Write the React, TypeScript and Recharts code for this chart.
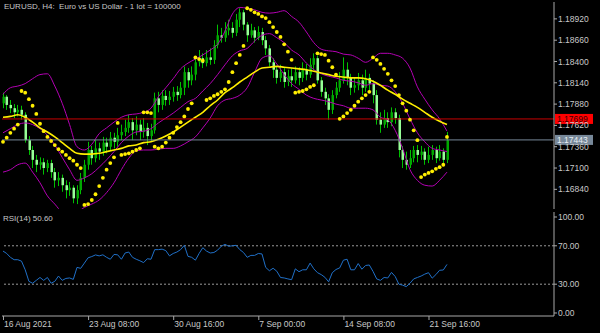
import {
  Bar,
  ComposedChart,
  Line,
  ReferenceLine,
  Scatter,
  XAxis,
  YAxis,
} from 'recharts'

// EURUSD H4 candles, one entry per bar
const OPEN = [
  1.1789, 1.1797, 1.1787, 1.1783, 1.1778, 1.1781, 1.1775, 1.1744, 1.1732, 1.172,
  1.1714, 1.1717, 1.171, 1.1716, 1.1705, 1.1695, 1.1698, 1.1689, 1.1683, 1.1686,
  1.1673, 1.1683, 1.1698, 1.1714, 1.1732, 1.1722, 1.1734, 1.173, 1.1741, 1.1736,
  1.1747, 1.1742, 1.175, 1.1754, 1.1759, 1.1766, 1.1756, 1.1763, 1.1754, 1.1759,
  1.1749, 1.1756, 1.1795, 1.1787, 1.1798, 1.1793, 1.1797, 1.1803, 1.1799, 1.1808,
  1.1827, 1.1817, 1.1824, 1.1839, 1.1844, 1.1838, 1.1845, 1.1842, 1.186, 1.1872,
  1.1869, 1.1878, 1.1881, 1.1875, 1.1891, 1.19, 1.1885, 1.1872, 1.1878, 1.1869,
  1.1876, 1.1866, 1.1856, 1.1839, 1.183, 1.182, 1.1827, 1.1815, 1.1822, 1.1817,
  1.1827, 1.182, 1.183, 1.1824, 1.1836, 1.1844, 1.1817, 1.1803, 1.1795, 1.1781,
  1.1799, 1.1808, 1.1817, 1.183, 1.182, 1.1808, 1.1811, 1.1817, 1.1808, 1.182,
  1.1813, 1.1799, 1.1769, 1.1763, 1.1771, 1.1766, 1.1778, 1.1771, 1.1732, 1.172,
  1.1714, 1.1722, 1.1732, 1.1726, 1.173, 1.172, 1.1726, 1.1732, 1.1722, 1.173,
  1.172,
]
const HIGH = [
  1.1802, 1.1799, 1.1793, 1.1788, 1.1787, 1.1786, 1.1778, 1.1749, 1.1737, 1.1726,
  1.1723, 1.1722, 1.172, 1.172, 1.171, 1.1705, 1.1702, 1.1695, 1.1693, 1.1689,
  1.1689, 1.1704, 1.172, 1.1742, 1.1737, 1.1744, 1.1741, 1.1748, 1.1747, 1.1754,
  1.1753, 1.1759, 1.1763, 1.1769, 1.1775, 1.1771, 1.1773, 1.1769, 1.1771, 1.1765,
  1.1764, 1.1802, 1.1803, 1.1805, 1.1805, 1.1804, 1.1809, 1.181, 1.1815, 1.1834,
  1.1832, 1.1834, 1.1845, 1.1854, 1.185, 1.1854, 1.1856, 1.1866, 1.1885, 1.1881,
  1.1888, 1.1891, 1.1888, 1.1898, 1.1905, 1.1903, 1.1888, 1.1886, 1.1882, 1.1883,
  1.1881, 1.1871, 1.186, 1.1844, 1.1834, 1.1836, 1.1832, 1.183, 1.1832, 1.1834,
  1.1833, 1.1839, 1.1837, 1.1844, 1.185, 1.1847, 1.1821, 1.1808, 1.18, 1.1805,
  1.1815, 1.1827, 1.1845, 1.1839, 1.1825, 1.182, 1.1826, 1.1824, 1.183, 1.1825,
  1.1817, 1.1805, 1.1778, 1.1781, 1.1778, 1.1784, 1.1783, 1.1775, 1.1737, 1.173,
  1.1732, 1.1737, 1.1738, 1.1737, 1.1734, 1.1736, 1.1738, 1.1736, 1.1738, 1.1734,
  1.1754,
]
const LOW = [
  1.1783, 1.1781, 1.1777, 1.1771, 1.1773, 1.1769, 1.1741, 1.1726, 1.171, 1.1705,
  1.1708, 1.1702, 1.1705, 1.1698, 1.1686, 1.1688, 1.1681, 1.1673, 1.1676, 1.1667,
  1.1666, 1.1678, 1.1693, 1.1708, 1.1714, 1.1717, 1.172, 1.1725, 1.1728, 1.1731,
  1.1734, 1.1736, 1.1744, 1.1749, 1.1753, 1.1744, 1.175, 1.1744, 1.1747, 1.1738,
  1.1742, 1.1752, 1.1778, 1.1781, 1.1786, 1.1787, 1.1791, 1.1792, 1.1795, 1.1799,
  1.1808, 1.1811, 1.1817, 1.1834, 1.1832, 1.1834, 1.1836, 1.1837, 1.1856, 1.1863,
  1.1864, 1.1872, 1.1869, 1.1871, 1.1882, 1.1878, 1.1864, 1.1869, 1.1863, 1.1866,
  1.186, 1.1848, 1.1834, 1.182, 1.1813, 1.1815, 1.1808, 1.181, 1.1809, 1.1813,
  1.1811, 1.1815, 1.1817, 1.182, 1.183, 1.1813, 1.1797, 1.1787, 1.1769, 1.1776,
  1.1795, 1.1803, 1.1813, 1.1811, 1.1799, 1.1802, 1.1805, 1.1799, 1.1803, 1.1803,
  1.1789, 1.1763, 1.1753, 1.1759, 1.1759, 1.1761, 1.1764, 1.1723, 1.171, 1.1708,
  1.171, 1.1717, 1.1717, 1.172, 1.1714, 1.1716, 1.172, 1.1716, 1.1719, 1.1715,
  1.1716,
]
const CLOSE = [
  1.1797, 1.1787, 1.1783, 1.1778, 1.1781, 1.1775, 1.1744, 1.1732, 1.172, 1.1714,
  1.1717, 1.171, 1.1716, 1.1705, 1.1695, 1.1698, 1.1689, 1.1683, 1.1686, 1.1673,
  1.1683, 1.1698, 1.1714, 1.1732, 1.1722, 1.1734, 1.173, 1.1741, 1.1736, 1.1747,
  1.1742, 1.175, 1.1754, 1.1759, 1.1766, 1.1756, 1.1763, 1.1754, 1.1759, 1.1749,
  1.1756, 1.1795, 1.1787, 1.1798, 1.1793, 1.1797, 1.1803, 1.1799, 1.1808, 1.1827,
  1.1817, 1.1824, 1.1839, 1.1844, 1.1838, 1.1845, 1.1842, 1.186, 1.1872, 1.1869,
  1.1878, 1.1881, 1.1875, 1.1891, 1.19, 1.1885, 1.1872, 1.1878, 1.1869, 1.1876,
  1.1866, 1.1856, 1.1839, 1.183, 1.182, 1.1827, 1.1815, 1.1822, 1.1817, 1.1827,
  1.182, 1.183, 1.1824, 1.1836, 1.1844, 1.1817, 1.1803, 1.1795, 1.1781, 1.1799,
  1.1808, 1.1817, 1.183, 1.182, 1.1808, 1.1811, 1.1817, 1.1808, 1.182, 1.1813,
  1.1799, 1.1769, 1.1763, 1.1771, 1.1766, 1.1778, 1.1771, 1.1732, 1.172, 1.1714,
  1.1722, 1.1732, 1.1726, 1.173, 1.172, 1.1726, 1.1732, 1.1722, 1.173, 1.172,
  1.1744,
]

// Parabolic SAR, one dot per bar
const SAR = [
  1.1742, 1.1747, 1.1753, 1.1758, 1.1763, 1.1804, 1.1802, 1.1794, 1.1786, 1.1776,
  1.1764, 1.1755, 1.1748, 1.1743, 1.1738, 1.1733, 1.173, 1.1726, 1.1722, 1.1719,
  1.1714, 1.171, 1.1665, 1.1666, 1.1671, 1.1678, 1.1688, 1.1698, 1.1708, 1.1716,
  1.1723, 1.1765, 1.1726, 1.1727, 1.1728, 1.173, 1.1732, 1.1734, 1.1778, 1.1778,
  1.1777, 1.1736, 1.1734, 1.1736, 1.1741, 1.1747, 1.1753, 1.176, 1.1766, 1.1773,
  1.1782, 1.1789, 1.1845, 1.1843, 1.1841, 1.1793, 1.1795, 1.1798, 1.18, 1.1803,
  1.1806, 1.1815, 1.1827, 1.1838, 1.1848, 1.1859, 1.1905, 1.1903, 1.19, 1.1898,
  1.1895, 1.1893, 1.1888, 1.1882, 1.1876, 1.187, 1.1861, 1.1852, 1.1842, 1.1802,
  1.1803, 1.1804, 1.1806, 1.1809, 1.1811, 1.185, 1.1849, 1.1848, 1.1841, 1.1833,
  1.1824, 1.177, 1.1773, 1.1777, 1.1781, 1.1786, 1.1791, 1.1795, 1.1799, 1.1803,
  1.1845, 1.1842, 1.1837, 1.1831, 1.1825, 1.1817, 1.181, 1.1799, 1.1789, 1.178,
  1.1769, 1.1756, 1.1744, 1.1699, 1.1702, 1.1704, 1.1706, 1.1709, 1.1711, 1.1714,
  1.1748,
]

// Bollinger bands and moving average, read on every second bar
const BB_UPPER = [
  1.18, 1.1808, 1.181, 1.1813, 1.1819, 1.1824, 1.1825, 1.181, 1.1789, 1.1763,
  1.1736, 1.1732, 1.1739, 1.1752, 1.1759, 1.1766, 1.1772, 1.1775, 1.1776, 1.1778,
  1.1783, 1.1797, 1.1808, 1.1819, 1.1831, 1.1838, 1.1843, 1.1848, 1.1854, 1.1861,
  1.1877, 1.1898, 1.1906, 1.1905, 1.1903, 1.19, 1.1899, 1.19, 1.1902, 1.1895,
  1.1888, 1.1876, 1.1863, 1.1855, 1.1853, 1.1852, 1.1849, 1.1848, 1.1844, 1.1839,
  1.1844, 1.185, 1.185, 1.1848, 1.1844, 1.1832, 1.1809, 1.1794, 1.1781, 1.177,
  1.1755,
]
const BB_MID = [
  1.1753, 1.1758, 1.1763, 1.1765, 1.1763, 1.1758, 1.175, 1.1738, 1.1723, 1.1708,
  1.1695, 1.1698, 1.1703, 1.1711, 1.172, 1.173, 1.1741, 1.1749, 1.1754, 1.1755,
  1.1758, 1.1765, 1.1771, 1.1777, 1.1784, 1.1791, 1.1795, 1.1804, 1.1813, 1.1824,
  1.1836, 1.1847, 1.1853, 1.1856, 1.1865, 1.1872, 1.1874, 1.1869, 1.1863, 1.1854,
  1.1848, 1.1838, 1.183, 1.1825, 1.1822, 1.182, 1.1817, 1.1816, 1.1814, 1.1811,
  1.1813, 1.1811, 1.181, 1.1803, 1.1789, 1.177, 1.1753, 1.1742, 1.1734, 1.1732,
  1.173,
]
const BB_LOWER = [
  1.1705, 1.1708, 1.1714, 1.1716, 1.1705, 1.1692, 1.1676, 1.1666, 1.1656, 1.1653,
  1.1656, 1.1662, 1.1666, 1.1671, 1.168, 1.1692, 1.1708, 1.1722, 1.1731, 1.1732,
  1.1732, 1.1733, 1.1734, 1.1734, 1.1737, 1.1742, 1.1748, 1.1759, 1.1771, 1.1786,
  1.1793, 1.1795, 1.1799, 1.1808, 1.1827, 1.1844, 1.1847, 1.1837, 1.1824, 1.1813,
  1.1806, 1.1799, 1.1795, 1.1793, 1.1791, 1.1788, 1.1786, 1.1783, 1.1783, 1.1783,
  1.1781, 1.1772, 1.1769, 1.1756, 1.1734, 1.1708, 1.1695, 1.1689, 1.1688, 1.1695,
  1.1705,
]
const MA = [
  1.1772, 1.1773, 1.1775, 1.1772, 1.1766, 1.1759, 1.1754, 1.1748, 1.1741, 1.1734,
  1.1728, 1.1727, 1.1727, 1.1728, 1.173, 1.1732, 1.1734, 1.1737, 1.1738, 1.1741,
  1.1742, 1.1745, 1.1749, 1.1754, 1.176, 1.1766, 1.1772, 1.1778, 1.1786, 1.1793,
  1.1802, 1.1808, 1.1815, 1.1821, 1.1827, 1.1832, 1.1833, 1.1834, 1.1833, 1.1832,
  1.1831, 1.183, 1.1828, 1.1826, 1.1824, 1.1822, 1.1821, 1.182, 1.182, 1.1819,
  1.1816, 1.1811, 1.1805, 1.18, 1.1794, 1.1789, 1.1784, 1.1778, 1.1772, 1.1767,
  1.1763,
]

// RSI(14), one value per bar
const RSI = [
  64.5, 62, 58, 55.5, 55.5, 54, 45, 33, 31, 34,
  37, 34, 37, 31, 33, 38.5, 34, 36, 36.5, 35,
  47.5, 46.5, 52, 57.5, 58.8, 60.5, 59.5, 60.6, 58, 56,
  61, 60.6, 56, 62.5, 63.5, 58, 56, 54.4, 52.5, 56.5,
  56, 66, 66, 66.5, 65, 59.5, 62, 63.5, 66, 70.5,
  59, 58, 55, 62, 68, 64.5, 62.5, 63, 65.5, 69.5,
  71.5, 69.5, 70, 70.5, 66, 63, 58, 60, 60, 62,
  61.5, 47.5, 44, 46.6, 43.5, 37, 36.5, 35.5, 34.7, 46,
  43, 45, 45, 52, 46, 42, 40, 37.2, 32.5, 42,
  45.3, 47, 55, 56, 45, 45, 51.5, 45.6, 49.5, 50,
  43.4, 35.5, 34, 37, 36.5, 42.3, 38, 30, 29, 27.5,
  31, 35.5, 37, 38.5, 40.5, 42, 36.3, 40, 44.5, 44.8,
  50.6,
]

const PRICE_TICKS = [1.1684, 1.171, 1.1736, 1.1762, 1.1788, 1.1814, 1.184, 1.1866, 1.1892]
const RSI_TICKS = [0, 30, 70, 100]
const TIME_TICKS = [0, 23, 46, 69, 92, 115]
const TIME_LABELS = ['16 Aug 2021', '23 Aug 08:00', '30 Aug 16:00', '7 Sep 00:00', '14 Sep 08:00', '21 Sep 16:00']

const ASK = 1.17699
const BID = 1.17443
const RSI_LAST = 50.6

const data = CLOSE.map((close, i) => ({
  i,
  range: [LOW[i], HIGH[i]],
  open: OPEN[i],
  high: HIGH[i],
  low: LOW[i],
  close,
  sar: SAR[i],
  rsi: RSI[i],
  upper: i % 2 === 0 ? BB_UPPER[i / 2] : null,
  mid: i % 2 === 0 ? BB_MID[i / 2] : null,
  lower: i % 2 === 0 ? BB_LOWER[i / 2] : null,
  ma: i % 2 === 0 ? MA[i / 2] : null,
}))

const X_DOMAIN: [number, number] = [-0.27, 148.92]
const FONT = '"Liberation Sans", Arial, sans-serif'
const FRAME = '#a8a8a8'
const TEXT = '#c8c8c8'
const GREEN = '#00c000'
const MAGENTA = '#b400b4'
const YELLOW = '#ffee00'

function Candle(props: any) {
  const { x, y, width, height, payload } = props
  if (payload == null || height == null) return null
  const top = Math.min(y, y + height)
  const h = Math.abs(height)
  const { open, close, high, low } = payload
  const toY = (v: number) => top + ((high - v) / (high - low || 1)) * h
  const cx = Math.round(x + width / 2)
  const bodyTop = toY(Math.max(open, close))
  const bodyBot = toY(Math.min(open, close))
  const bull = close >= open
  return (
    <g>
      <line x1={cx + 0.5} x2={cx + 0.5} y1={top} y2={top + h} stroke={GREEN} strokeWidth={1} />
      <rect
        x={cx - 0.5}
        y={bodyTop}
        width={2.5}
        height={Math.max(1, bodyBot - bodyTop)}
        fill={bull ? '#00a800' : '#96ff96'}
      />
    </g>
  )
}

function SarDot(props: any) {
  if (props.cx == null || props.cy == null) return null
  return <circle cx={props.cx} cy={props.cy} r={1.9} fill={YELLOW} />
}

function PriceTag(props: any) {
  const { viewBox, text, bg, fg } = props
  if (!viewBox) return null
  const x = viewBox.x + viewBox.width + 1
  const y = viewBox.y
  return (
    <g>
      <rect x={x} y={y - 5} width={38} height={10} fill={bg} />
      <text x={x + 2} y={y + 3.5} fill={fg} fontSize={8.5} fontFamily={FONT}>
        {text}
      </text>
    </g>
  )
}

function TimeTick(props: any) {
  const { x, y, payload } = props
  const idx = TIME_TICKS.indexOf(payload.value)
  return (
    <g>
      <line x1={x + 0.5} x2={x + 0.5} y1={y} y2={y + 4} stroke={FRAME} />
      <text x={x + 1} y={y + 11} fill={TEXT} fontSize={8.5} fontFamily={FONT}>
        {TIME_LABELS[idx]}
      </text>
    </g>
  )
}

const tickStyle = { fill: TEXT, fontSize: 8.5, fontFamily: FONT }

export default function App() {
  return (
    <div style={{ position: 'fixed', left: 0, top: 0, width: 600, height: 333, background: '#000', overflow: 'hidden' }}>
      <div style={{ position: 'absolute', left: 0, top: 0 }}>
        <ComposedChart width={600} height={210} data={data} margin={{ top: 2, right: 0, bottom: 1, left: 2 }}>
          <XAxis xAxisId="b" dataKey="i" type="number" domain={X_DOMAIN} height={0} tick={false} tickLine={false} axisLine={{ stroke: FRAME }} />
          <XAxis xAxisId="t" dataKey="i" type="number" domain={X_DOMAIN} orientation="top" height={0} tick={false} tickLine={false} axisLine={{ stroke: FRAME }} />
          <YAxis yAxisId="l" orientation="left" width={0} domain={[1.166, 1.19126]} tick={false} tickLine={false} axisLine={{ stroke: FRAME }} />
          <YAxis
            yAxisId="p"
            orientation="right"
            width={46}
            domain={[1.166, 1.19126]}
            allowDataOverflow
            ticks={PRICE_TICKS}
            tickFormatter={(v: number) => v.toFixed(5)}
            tick={tickStyle}
            tickSize={3}
            tickMargin={1}
            tickLine={{ stroke: FRAME }}
            axisLine={{ stroke: FRAME }}
            interval={0}
          />
          <Bar xAxisId="b" yAxisId="p" dataKey="range" barSize={3} shape={<Candle />} isAnimationActive={false} />
          <Line xAxisId="b" yAxisId="p" dataKey="upper" type="monotone" stroke={MAGENTA} strokeWidth={1} dot={false} connectNulls isAnimationActive={false} />
          <Line xAxisId="b" yAxisId="p" dataKey="mid" type="monotone" stroke={MAGENTA} strokeWidth={1} dot={false} connectNulls isAnimationActive={false} />
          <Line xAxisId="b" yAxisId="p" dataKey="lower" type="monotone" stroke={MAGENTA} strokeWidth={1} dot={false} connectNulls isAnimationActive={false} />
          <Line xAxisId="b" yAxisId="p" dataKey="ma" type="monotone" stroke={YELLOW} strokeWidth={1.6} dot={false} connectNulls isAnimationActive={false} />
          <Scatter xAxisId="b" yAxisId="p" dataKey="sar" shape={<SarDot />} isAnimationActive={false} />
          <ReferenceLine
            xAxisId="b"
            yAxisId="p"
            y={ASK}
            stroke="#c80000"
            strokeWidth={1}
            label={<PriceTag text={ASK.toFixed(5)} bg="#ff0000" fg="#3a0000" />}
          />
          <ReferenceLine
            xAxisId="b"
            yAxisId="p"
            y={BID}
            stroke="#778899"
            strokeWidth={1}
            label={<PriceTag text={BID.toFixed(5)} bg="#778899" fg="#e8eef4" />}
          />
        </ComposedChart>
      </div>

      <div style={{ position: 'absolute', left: 0, top: 200 }}>
        <ComposedChart width={600} height={133} data={data} margin={{ top: 12, right: 0, bottom: 0, left: 2 }}>
          <XAxis
            xAxisId="b"
            dataKey="i"
            type="number"
            domain={X_DOMAIN}
            height={17}
            ticks={TIME_TICKS}
            interval={0}
            tick={<TimeTick />}
            tickSize={0}
            tickMargin={0}
            tickLine={false}
            axisLine={{ stroke: FRAME }}
          />
          <XAxis xAxisId="t" dataKey="i" type="number" domain={X_DOMAIN} orientation="top" height={0} tick={false} tickLine={false} axisLine={{ stroke: FRAME }} />
          <YAxis yAxisId="l" orientation="left" width={0} domain={[-3.125, 105.2]} tick={false} tickLine={false} axisLine={{ stroke: FRAME }} />
          <YAxis
            yAxisId="r"
            orientation="right"
            width={46}
            domain={[-3.125, 105.2]}
            ticks={RSI_TICKS}
            interval={0}
            tickFormatter={(v: number) => v.toFixed(2)}
            tick={tickStyle}
            tickSize={3}
            tickMargin={1}
            tickLine={{ stroke: FRAME }}
            axisLine={{ stroke: FRAME }}
          />
          <ReferenceLine xAxisId="b" yAxisId="r" y={70} stroke="#9a9a9a" strokeDasharray="2 2" />
          <ReferenceLine xAxisId="b" yAxisId="r" y={30} stroke="#9a9a9a" strokeDasharray="2 2" />
          <Line xAxisId="b" yAxisId="r" dataKey="rsi" type="linear" stroke="#2070c8" strokeWidth={1} dot={false} isAnimationActive={false} />
        </ComposedChart>
      </div>

      <div style={{ position: 'absolute', left: 4, top: 2, color: TEXT, fontSize: 8, fontFamily: FONT, whiteSpace: 'pre', lineHeight: '10px' }}>
        {'EURUSD, H4:  Euro vs US Dollar - 1 lot = 100000'}
      </div>
      <div style={{ position: 'absolute', left: 3, top: 214, color: TEXT, fontSize: 8, fontFamily: FONT, whiteSpace: 'pre', lineHeight: '10px' }}>
        {`RSI(14) ${RSI_LAST.toFixed(2)}`}
      </div>
    </div>
  )
}
